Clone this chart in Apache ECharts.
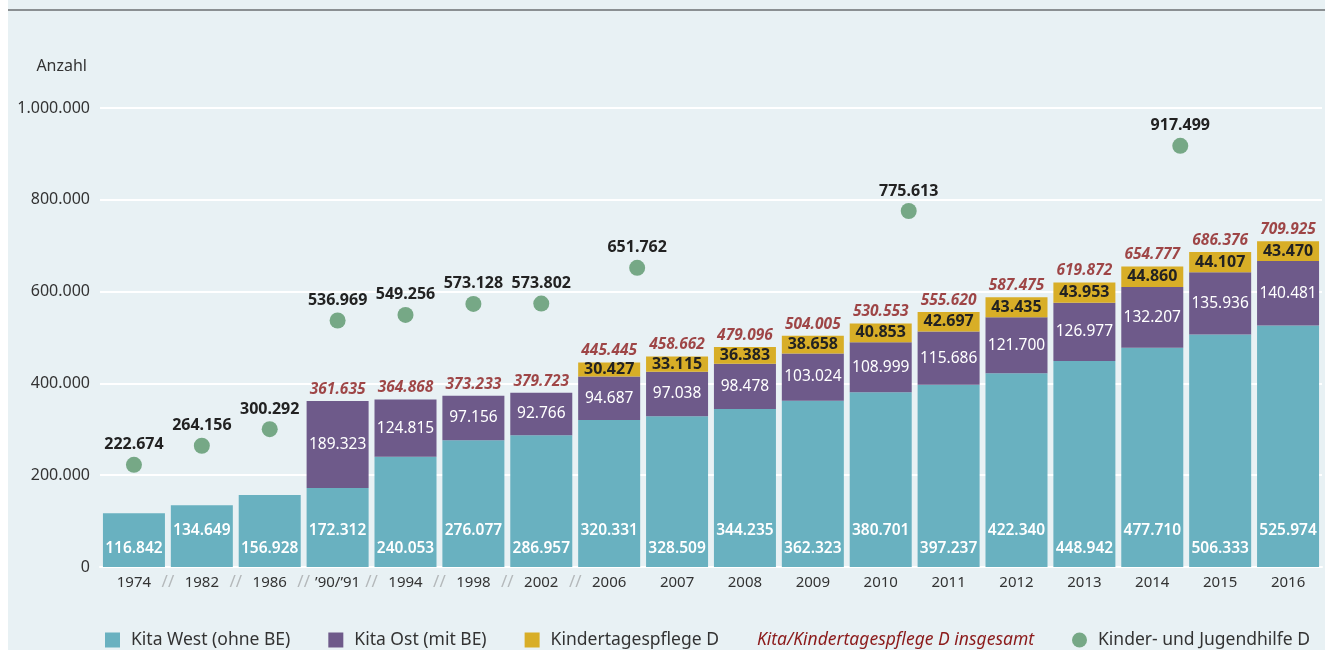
<!DOCTYPE html>
<html>
<head>
    <meta charset="utf-8"/>
    <title>Kita</title>
    <style>
        body { margin: 0; background: #ffffff; }
        #main { position: absolute; left: 8px; top: 0; width: 1317px; height: 650px; background: #e8f1f4; }
    </style>
</head>
<body>
<script type="text/javascript" src="https://cdn.jsdelivr.net/npm/echarts@6.0.0/dist/echarts.min.js"></script>
<div id="main"></div>

<script type="text/javascript">
    var years = ['1974', '1982', '1986', '\u201990/\u201991', '1994', '1998', '2002', '2006', '2007', '2008',
        '2009', '2010', '2011', '2012', '2013', '2014', '2015', '2016'];
    var kitaWest = [116842, 134649, 156928, 172312, 240053, 276077, 286957, 320331, 328509, 344235,
        362323, 380701, 397237, 422340, 448942, 477710, 506333, 525974];
    var kitaOst = ['-', '-', '-', 189323, 124815, 97156, 92766, 94687, 97038, 98478,
        103024, 108999, 115686, 121700, 126977, 132207, 135936, 140481];
    var pflege = ['-', '-', '-', '-', '-', '-', '-', 30427, 33115, 36383,
        38658, 40853, 42697, 43435, 43953, 44860, 44107, 43470];
    var insgesamt = ['-', '-', '-', 361635, 364868, 373233, 379723, 445445, 458662, 479096,
        504005, 530553, 555620, 587475, 619872, 654777, 686376, 709925];
    var jugendhilfe = [222674, 264156, 300292, 536969, 549256, 573128, 573802, 651762, '-', '-',
        '-', 775613, '-', '-', '-', 917499, '-', '-'];
    var yTicks = [0, 200000, 400000, 600000, 800000, 1000000];

    var font = 'Noto Sans';
    function fmt(v) {
        return String(v).replace(/\B(?=(\d{3})+(?!\d))/g, '.');
    }

    var myChart = echarts.init(document.getElementById('main'));

    // labels in the west bars alternate between low and high
    var westData = kitaWest.map(function (v, i) {
        return {value: v, label: {distance: i % 2 ? 28 : 10}};
    });
    // the three late dots sit a bit right of their bar
    var shifted = ['2006', '2010', '2014'];
    var dotData = jugendhilfe.map(function (v, i) {
        if (shifted.indexOf(years[i]) >= 0 && v !== '-') {
            return {value: v, symbolOffset: [28, 0]};
        }
        return v;
    });

    var option = {
        textStyle: {fontFamily: font},
        animation: false,
        graphic: [{
            type: 'rect', left: -8, top: 9, shape: {width: 1330, height: 2},
            style: {fill: '#8a8f92'}
        }],
        grid: {left: 92, right: 1, top: 108, bottom: 83},
        legend: {
            left: 92, top: 626,
            itemWidth: 15, itemHeight: 15, itemGap: 38,
            textStyle: {fontFamily: font, fontSize: 17.5, color: '#333', padding: [0, 0, 0, 6]},
            data: [
                {name: 'Kita West (ohne BE)', icon: 'rect'},
                {name: 'Kita Ost (mit BE)', icon: 'rect'},
                {name: 'Kindertagespflege D', icon: 'rect'},
                {name: 'Kita/Kindertagespflege D insgesamt', icon: 'none',
                    textStyle: {color: '#8b1a1a', fontStyle: 'italic', padding: [0, 0, 0, -31]}},
                {name: 'Kinder- und Jugendhilfe D', icon: 'circle'}
            ]
        },
        xAxis: [{
            type: 'category',
            data: years,
            axisLine: {lineStyle: {color: '#ffffff', width: 2}},
            axisTick: {show: false},
            axisLabel: {color: '#333', fontSize: 15, margin: 8, fontFamily: font}
        }, {
            type: 'value', min: 0, max: 18, interval: 1,
            position: 'bottom',
            axisLine: {show: false}, axisTick: {show: false}, splitLine: {show: false},
            axisLabel: {
                color: '#b4b8ba', fontSize: 17, margin: 7, fontFamily: font,
                formatter: function (v) { return (v >= 1 && v <= 7) ? '//' : ''; }
            }
        }],
        yAxis: {
            type: 'value', min: 0, max: 1000000, interval: 200000,
            name: 'Anzahl', nameGap: 34,
            nameTextStyle: {align: 'right', color: '#333', fontSize: 16, padding: [0, 13, 0, 0], fontFamily: font},
            axisLine: {show: false}, axisTick: {show: false},
            splitLine: {lineStyle: {color: '#ffffff', width: 2}},
            axisLabel: {
                color: '#333', fontSize: 16, margin: 10, fontFamily: font,
                formatter: function (v) { return yTicks.indexOf(v) >= 0 ? fmt(v) : ''; }
            }
        },
        series: [{
            name: 'Kita West (ohne BE)', type: 'bar', stack: 'kita', barWidth: 62,
            itemStyle: {color: '#69b1c0'},
            label: {show: true, position: 'insideBottom', color: '#fff', fontSize: 15.5, fontWeight: 600, fontFamily: font,
                formatter: function (p) { return fmt(p.value); }},
            data: westData
        }, {
            name: 'Kita Ost (mit BE)', type: 'bar', stack: 'kita', barWidth: 62,
            itemStyle: {color: '#6e5a8a'},
            label: {show: true, position: 'inside', color: '#fff', fontSize: 15.5, fontFamily: font,
                formatter: function (p) { return fmt(p.value); }},
            data: kitaOst
        }, {
            name: 'Kindertagespflege D', type: 'bar', stack: 'kita', barWidth: 62,
            itemStyle: {color: '#d8ae27'},
            label: {show: true, position: 'inside', color: '#222', fontSize: 16, fontWeight: 'bold', fontFamily: font,
                formatter: function (p) { return fmt(p.value); }},
            data: pflege
        }, {
            name: 'Kita/Kindertagespflege D insgesamt', type: 'scatter', symbolSize: 1,
            itemStyle: {color: 'rgba(0,0,0,0)'},
            label: {show: true, position: 'top', distance: 3, color: '#8b1a1a', fontSize: 15.5,
                fontStyle: 'italic', fontWeight: 'bold', fontFamily: font,
                formatter: function (p) { return fmt(p.value); }},
            data: insgesamt
        }, {
            name: 'Kinder- und Jugendhilfe D', type: 'scatter', symbolSize: 16,
            itemStyle: {color: '#76a886', opacity: 1},
            label: {show: true, position: 'top', distance: 4, color: '#222', fontSize: 16,
                fontWeight: 'bold', fontFamily: font,
                formatter: function (p) { return fmt(p.value); }},
            data: dotData
        }]
    };

    myChart.setOption(option);
</script>
</body>
</html>
